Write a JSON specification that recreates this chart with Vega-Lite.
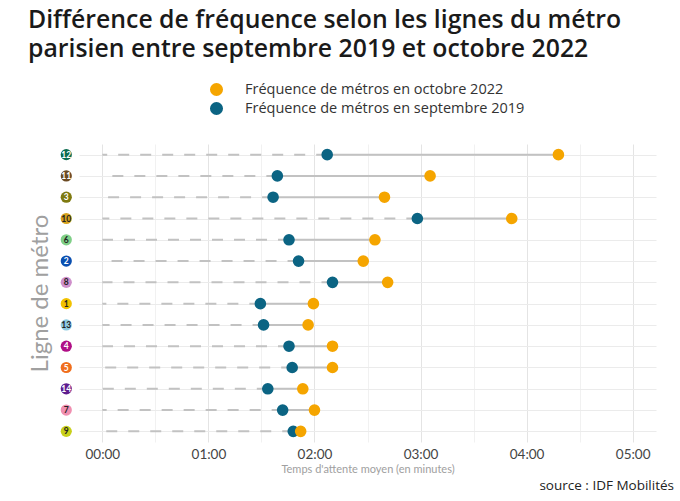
{
  "$schema": "https://vega.github.io/schema/vega-lite/v6.json",
  "background": "white",
  "padding": {"left": 28, "top": 8, "right": 5, "bottom": 5},
  "title": {
    "text": ["Différence de fréquence selon les lignes du métro", "parisien entre septembre 2019 et octobre 2022"],
    "anchor": "start",
    "font": "Open Sans",
    "fontSize": 24.8,
    "fontWeight": 600,
    "color": "#1a1a1a",
    "lineHeight": 29,
    "offset": 20
  },
  "config": {
    "view": {"stroke": null},
    "font": "Lato"
  },
  "vconcat": [
    {
      "width": 577,
      "height": 298,
      "title": {
        "text": "source : IDF Mobilités",
        "orient": "bottom",
        "anchor": "end",
        "font": "Open Sans",
        "fontSize": 13.5,
        "fontWeight": "normal",
        "color": "#222",
        "dx": 18,
        "offset": 4
      },
      "data": {
        "values": [
          {"ligne": "12", "sep2019": 2.12, "oct2022": 4.30},
          {"ligne": "11", "sep2019": 1.65, "oct2022": 3.09},
          {"ligne": "3", "sep2019": 1.61, "oct2022": 2.66},
          {"ligne": "10", "sep2019": 2.97, "oct2022": 3.86},
          {"ligne": "6", "sep2019": 1.76, "oct2022": 2.57},
          {"ligne": "2", "sep2019": 1.85, "oct2022": 2.46},
          {"ligne": "8", "sep2019": 2.17, "oct2022": 2.69},
          {"ligne": "1", "sep2019": 1.49, "oct2022": 1.99},
          {"ligne": "13", "sep2019": 1.52, "oct2022": 1.94},
          {"ligne": "4", "sep2019": 1.76, "oct2022": 2.17},
          {"ligne": "5", "sep2019": 1.79, "oct2022": 2.17},
          {"ligne": "14", "sep2019": 1.56, "oct2022": 1.89},
          {"ligne": "7", "sep2019": 1.70, "oct2022": 2.00},
          {"ligne": "9", "sep2019": 1.80, "oct2022": 1.87}
        ]
      },
      "layer": [
        {
          "mark": {"type": "rule", "strokeWidth": 2, "color": "#c2c2c2"},
          "encoding": {
            "y": {
              "field": "ligne",
              "type": "nominal",
              "scale": {
                "type": "point",
                "padding": 0.5,
                "domain": ["12", "11", "3", "10", "6", "2", "8", "1", "13", "4", "5", "14", "7", "9"]
              },
              "axis": {
                "title": "Ligne de métro",
                "titleFont": "Lato",
                "titleFontSize": 24,
                "titleFontWeight": "normal",
                "titleColor": "#a0a0a0",
                "titlePadding": 27,
                "labels": false,
                "ticks": false,
                "domain": false,
                "grid": true,
                "gridColor": "#ebebeb"
              }
            },
            "x": {
              "field": "sep2019",
              "type": "quantitative",
              "scale": {"domain": [-0.22, 5.22], "nice": false, "zero": false},
              "axis": {
                "values": [0, 0.5, 1, 1.5, 2, 2.5, 3, 3.5, 4, 4.5, 5],
                "labelExpr": "datum.value % 1 == 0 ? '0' + datum.value + ':00' : ''",
                "labelFont": "Lato",
                "labelFontSize": 13.5,
                "labelColor": "#444",
                "labelPadding": 5,
                "ticks": false,
                "domain": false,
                "grid": true,
                "gridColor": {"condition": {"test": "datum.value % 1 == 0", "value": "#e4e4e4"}, "value": "#f1f1f1"},
                "title": "Temps d'attente moyen (en minutes)",
                "titleFont": "Lato",
                "titleFontSize": 11,
                "titleFontWeight": "normal",
                "titleColor": "#a0a0a0",
                "titlePadding": 3
              }
            },
            "x2": {"field": "oct2022"}
          }
        },
        {
          "mark": {"type": "rule", "strokeWidth": 2, "color": "#c2c2c2", "strokeDash": [11, 11]},
          "encoding": {
            "y": {"field": "ligne", "type": "nominal"},
            "x": {"field": "sep2019", "type": "quantitative"},
            "x2": {"datum": 0}
          }
        },
        {
          "transform": [{"fold": ["sep2019", "oct2022"], "as": ["periode", "temps"]}],
          "mark": {"type": "point", "filled": true, "opacity": 1, "size": 135},
          "encoding": {
            "y": {"field": "ligne", "type": "nominal"},
            "x": {"field": "temps", "type": "quantitative"},
            "color": {
              "field": "periode",
              "type": "nominal",
              "scale": {"domain": ["oct2022", "sep2019"], "range": ["#f5a500", "#0b6483"]},
              "legend": {
                "title": null,
                "orient": "none",
                "legendX": 130,
                "legendY": -62,
                "symbolType": "circle",
                "symbolSize": 170,
                "symbolOpacity": 1,
                "labelFont": "Open Sans",
                "labelFontSize": 14.5,
                "labelColor": "#333",
                "labelOffset": 21,
                "labelLimit": 400,
                "rowPadding": 3,
                "labelExpr": "datum.value == 'oct2022' ? 'Fréquence de métros en octobre 2022' : 'Fréquence de métros en septembre 2019'"
              }
            }
          }
        },
        {
          "mark": {"type": "point", "filled": true, "opacity": 1, "size": 125},
          "encoding": {
            "y": {"field": "ligne", "type": "nominal"},
            "x": {"datum": -0.34},
            "color": {
              "field": "ligne",
              "type": "nominal",
              "scale": {
                "domain": ["1", "2", "3", "4", "5", "6", "7", "8", "9", "10", "11", "12", "13", "14"],
                "range": ["#f2c200", "#0a4fb0", "#7f7a10", "#b00e86", "#f06e1c", "#7fcf87", "#f08fb0", "#cf8fcb", "#c8cf1a", "#d6a21c", "#6b4a22", "#0b6b4f", "#8ecbe0", "#5e1d8e"]
              },
              "legend": null
            }
          }
        },
        {
          "transform": [{"filter": "indexof(['12', '11', '3', '2', '4', '5', '14'], datum.ligne) >= 0"}],
          "mark": {"type": "text", "font": "Lato", "fontSize": 8.5, "fontWeight": "bold", "color": "white", "baseline": "middle", "align": "center"},
          "encoding": {
            "y": {"field": "ligne", "type": "nominal"},
            "x": {"datum": -0.34},
            "text": {"field": "ligne"}
          }
        },
        {
          "transform": [{"filter": "indexof(['12', '11', '3', '2', '4', '5', '14'], datum.ligne) < 0"}],
          "mark": {"type": "text", "font": "Lato", "fontSize": 8.5, "fontWeight": "bold", "color": "#222", "baseline": "middle", "align": "center"},
          "encoding": {
            "y": {"field": "ligne", "type": "nominal"},
            "x": {"datum": -0.34},
            "text": {"field": "ligne"}
          }
        }
      ],
      "resolve": {"scale": {"color": "independent"}}
    }
  ]
}
